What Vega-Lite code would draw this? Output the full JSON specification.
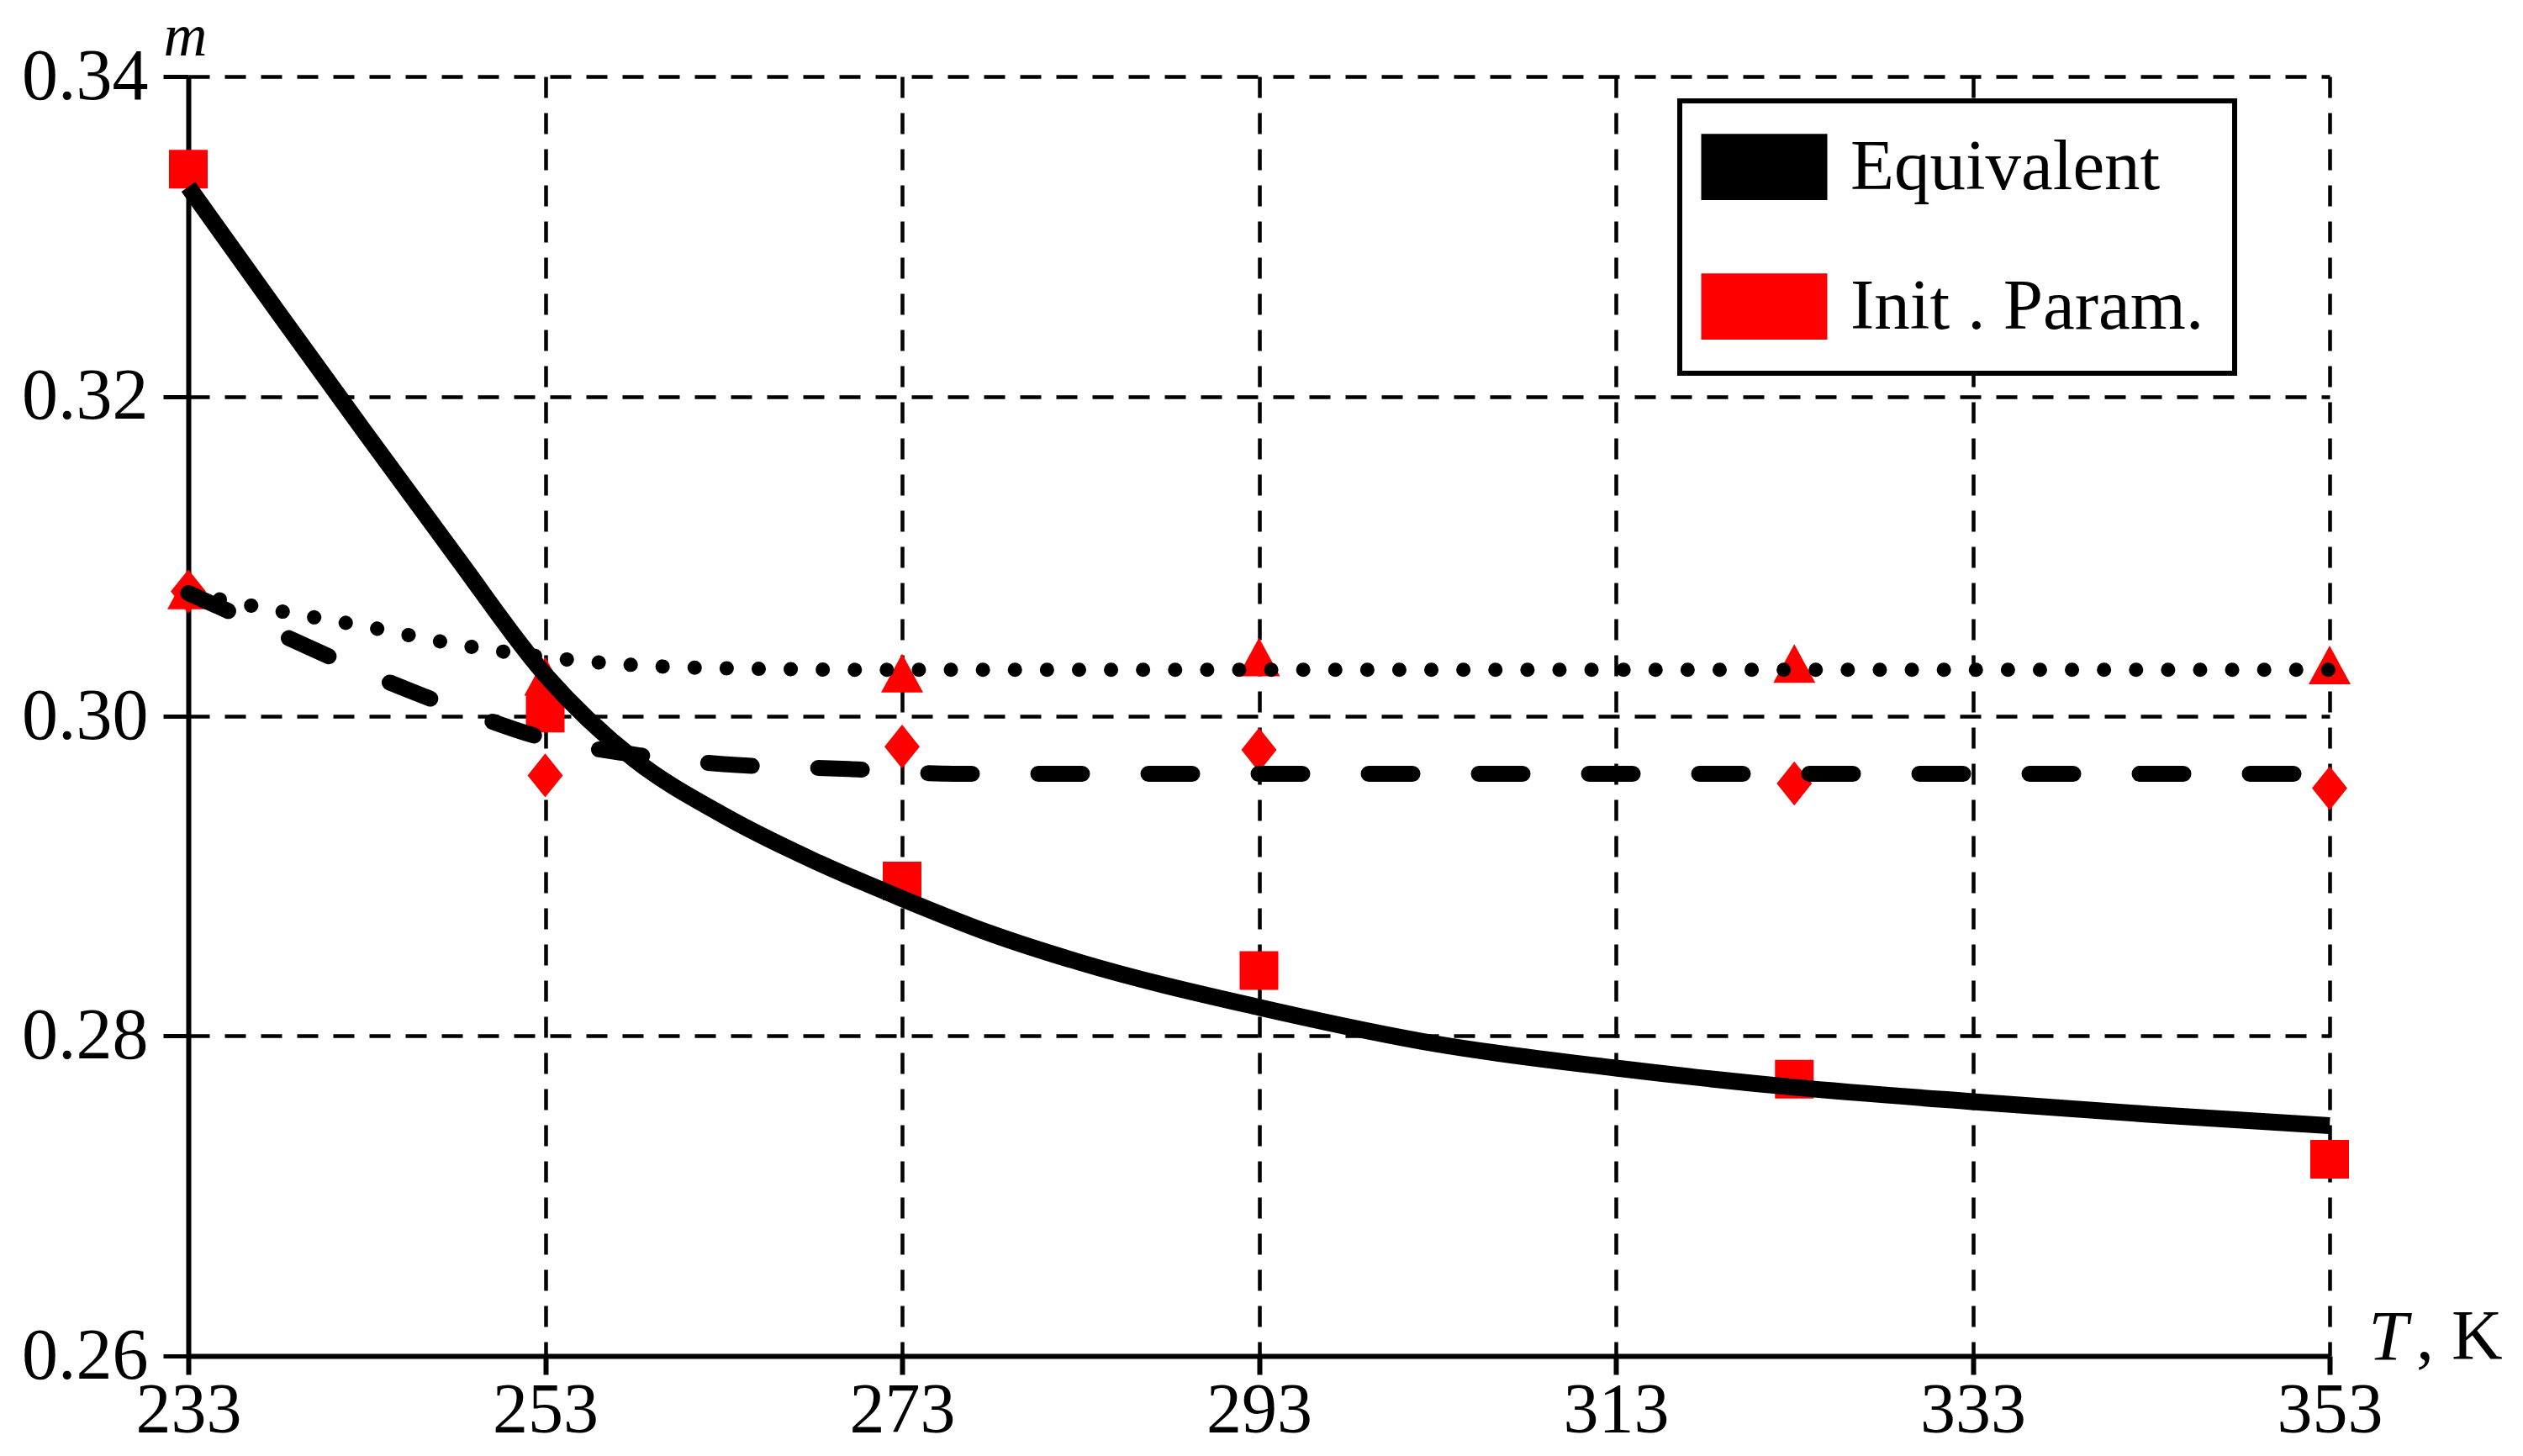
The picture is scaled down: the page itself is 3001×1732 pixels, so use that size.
{
  "$schema": "https://vega.github.io/schema/vega-lite/v6.json",
  "width": 2547,
  "height": 1522,
  "autosize": {"type": "none"},
  "padding": {"left": 224, "top": 91, "right": 230, "bottom": 119},
  "background": "white",
  "datasets": {
    "curves": [
      {"T": 233, "m": 0.3331, "fit": "solid"},
      {"T": 238, "m": 0.3253, "fit": "solid"},
      {"T": 243, "m": 0.3176, "fit": "solid"},
      {"T": 248, "m": 0.3100, "fit": "solid"},
      {"T": 253, "m": 0.3026, "fit": "solid"},
      {"T": 258, "m": 0.2973, "fit": "solid"},
      {"T": 263, "m": 0.2938, "fit": "solid"},
      {"T": 268, "m": 0.2910, "fit": "solid"},
      {"T": 273, "m": 0.2886, "fit": "solid"},
      {"T": 278, "m": 0.2864, "fit": "solid"},
      {"T": 283, "m": 0.2846, "fit": "solid"},
      {"T": 293, "m": 0.2818, "fit": "solid"},
      {"T": 303, "m": 0.2795, "fit": "solid"},
      {"T": 313, "m": 0.2780, "fit": "solid"},
      {"T": 323, "m": 0.2768, "fit": "solid"},
      {"T": 333, "m": 0.2759, "fit": "solid"},
      {"T": 343, "m": 0.2751, "fit": "solid"},
      {"T": 353, "m": 0.2744, "fit": "solid"},
      {"T": 233, "m": 0.3077, "fit": "dotted"},
      {"T": 238, "m": 0.3066, "fit": "dotted"},
      {"T": 243, "m": 0.3056, "fit": "dotted"},
      {"T": 248, "m": 0.3045, "fit": "dotted"},
      {"T": 253, "m": 0.3037, "fit": "dotted"},
      {"T": 258, "m": 0.3032, "fit": "dotted"},
      {"T": 263, "m": 0.3030, "fit": "dotted"},
      {"T": 273, "m": 0.3029, "fit": "dotted"},
      {"T": 293, "m": 0.3029, "fit": "dotted"},
      {"T": 353, "m": 0.3029, "fit": "dotted"},
      {"T": 233, "m": 0.3077, "fit": "dashed"},
      {"T": 238, "m": 0.3052, "fit": "dashed"},
      {"T": 243, "m": 0.3027, "fit": "dashed"},
      {"T": 248, "m": 0.3005, "fit": "dashed"},
      {"T": 253, "m": 0.2986, "fit": "dashed"},
      {"T": 258, "m": 0.2976, "fit": "dashed"},
      {"T": 263, "m": 0.2970, "fit": "dashed"},
      {"T": 270, "m": 0.2967, "fit": "dashed"},
      {"T": 276, "m": 0.2964, "fit": "dashed"},
      {"T": 290, "m": 0.2964, "fit": "dashed"},
      {"T": 353, "m": 0.2964, "fit": "dashed"}
    ],
    "markers": [
      {"T": 233, "m": 0.3078, "set": "diamond", "group": "Init . Param."},
      {"T": 253, "m": 0.2963, "set": "diamond", "group": "Init . Param."},
      {"T": 273, "m": 0.2981, "set": "diamond", "group": "Init . Param."},
      {"T": 293, "m": 0.2979, "set": "diamond", "group": "Init . Param."},
      {"T": 323, "m": 0.2958, "set": "diamond", "group": "Init . Param."},
      {"T": 353, "m": 0.2955, "set": "diamond", "group": "Init . Param."},
      {"T": 233, "m": 0.3342, "set": "square", "group": "Init . Param."},
      {"T": 253, "m": 0.3002, "set": "square", "group": "Init . Param."},
      {"T": 273, "m": 0.2897, "set": "square", "group": "Init . Param."},
      {"T": 293, "m": 0.2841, "set": "square", "group": "Init . Param."},
      {"T": 323, "m": 0.2773, "set": "square", "group": "Init . Param."},
      {"T": 353, "m": 0.2723, "set": "square", "group": "Init . Param."},
      {"T": 233, "m": 0.3079, "set": "triangle", "group": "Init . Param."},
      {"T": 253, "m": 0.3025, "set": "triangle", "group": "Init . Param."},
      {"T": 273, "m": 0.3027, "set": "triangle", "group": "Init . Param."},
      {"T": 293, "m": 0.3037, "set": "triangle", "group": "Init . Param."},
      {"T": 323, "m": 0.3033, "set": "triangle", "group": "Init . Param."},
      {"T": 353, "m": 0.3032, "set": "triangle", "group": "Init . Param."}
    ],
    "unit": [{"T": 353, "m": 0.26, "lab": ", K"}]
  },
  "data": {"name": "curves"},
  "encoding": {
    "x": {
      "field": "T",
      "type": "quantitative",
      "scale": {"domain": [233, 353], "nice": false, "zero": false},
      "axis": {
        "values": [233, 253, 273, 293, 313, 333, 353],
        "format": "d",
        "title": "T",
        "grid": true,
        "gridColor": "black",
        "gridDash": [25, 18],
        "gridWidth": 4.5,
        "gridOpacity": 1,
        "domainColor": "black",
        "domainWidth": 6,
        "tickColor": "black",
        "tickWidth": 6,
        "tickSize": 22,
        "labelFont": "Liberation Serif",
        "labelFontSize": 84,
        "labelColor": "black",
        "labelPadding": 2,
        "labelFlush": false,
        "labelOverlap": false,
        "titleFont": "Liberation Serif",
        "titleFontStyle": "italic",
        "titleFontWeight": "normal",
        "titleFontSize": 84,
        "titleColor": "black",
        "titleX": 2616,
        "titleY": 4,
        "titleAlign": "center",
        "titleBaseline": "alphabetic",
        "titleAngle": 0
      }
    },
    "y": {
      "field": "m",
      "type": "quantitative",
      "scale": {"domain": [0.26, 0.34], "nice": false, "zero": false},
      "axis": {
        "values": [0.26, 0.28, 0.30, 0.32, 0.34],
        "format": ".2f",
        "title": "m",
        "grid": true,
        "gridColor": "black",
        "gridDash": [25, 18],
        "gridWidth": 4.5,
        "gridOpacity": 1,
        "domainColor": "black",
        "domainWidth": 6,
        "tickColor": "black",
        "tickWidth": 5,
        "tickSize": 30,
        "labelFont": "Liberation Serif",
        "labelFontSize": 86,
        "labelColor": "black",
        "labelPadding": 18,
        "labelFlush": false,
        "labelOverlap": false,
        "titleFont": "Liberation Serif",
        "titleFontStyle": "italic",
        "titleFontWeight": "normal",
        "titleFontSize": 72,
        "titleColor": "black",
        "titleAngle": 0,
        "titleX": -4,
        "titleY": -26,
        "titleAlign": "center",
        "titleBaseline": "alphabetic"
      }
    }
  },
  "layer": [
    {
      "data": {"name": "markers"},
      "transform": [{"filter": "datum.set == 'diamond'"}],
      "mark": {"type": "point", "filled": true, "opacity": 1, "shape": "M0,-1L0.8,0L0,1L-0.8,0Z", "size": 2750},
      "encoding": {
        "color": {
          "field": "group",
          "type": "nominal",
          "scale": {"domain": ["Equivalent", "Init . Param."], "range": ["black", "red"]},
          "legend": {"orient": "none", "legendX": 1774, "legendY": 29}
        }
      }
    },
    {
      "data": {"name": "markers"},
      "transform": [{"filter": "datum.set == 'square'"}],
      "mark": {"type": "point", "filled": true, "opacity": 1, "shape": "square", "size": 2116},
      "encoding": {
        "color": {
          "field": "group",
          "type": "nominal",
          "scale": {"domain": ["Equivalent", "Init . Param."], "range": ["black", "red"]},
          "legend": {"orient": "none", "legendX": 1774, "legendY": 29}
        }
      }
    },
    {
      "data": {"name": "markers"},
      "transform": [{"filter": "datum.set == 'triangle'"}],
      "mark": {"type": "point", "filled": true, "opacity": 1, "shape": "M0,-0.92L1,0.92H-1Z", "size": 2500},
      "encoding": {
        "color": {
          "field": "group",
          "type": "nominal",
          "scale": {"domain": ["Equivalent", "Init . Param."], "range": ["black", "red"]},
          "legend": {"orient": "none", "legendX": 1774, "legendY": 29}
        }
      }
    },
    {
      "transform": [{"filter": "datum.fit == 'solid'"}],
      "mark": {"type": "line", "color": "black", "strokeWidth": 20, "interpolate": "monotone"},
      "encoding": {}
    },
    {
      "transform": [{"filter": "datum.fit == 'dashed'"}],
      "mark": {"type": "line", "color": "black", "strokeWidth": 19, "strokeDash": [52, 79], "strokeCap": "round", "interpolate": "monotone"},
      "encoding": {}
    },
    {
      "transform": [{"filter": "datum.fit == 'dotted'"}],
      "mark": {"type": "line", "color": "black", "strokeWidth": 17, "strokeDash": [0.1, 38], "strokeCap": "round", "interpolate": "monotone"},
      "encoding": {}
    },
    {
      "data": {"name": "unit"},
      "mark": {"type": "text", "font": "Liberation Serif", "fontSize": 84, "color": "black", "align": "left", "baseline": "alphabetic", "dx": 103, "dy": 4},
      "encoding": {
        "text": {"field": "lab"}
      }
    }
  ],
  "config": {
    "view": {"stroke": null},
    "legend": {
      "title": null,
      "symbolType": "M-2,-1.05H2V1.05H-2Z",
      "symbolSize": 5625,
      "symbolStrokeWidth": 0,
      "symbolOpacity": 1,
      "symbolOffset": 22,
      "labelFont": "Liberation Serif",
      "labelFontSize": 85,
      "labelColor": "black",
      "labelOffset": 60,
      "labelLimit": 0,
      "padding": 36,
      "rowPadding": 80,
      "fillColor": "white",
      "strokeColor": "black",
      "strokeWidth": 6
    }
  }
}
